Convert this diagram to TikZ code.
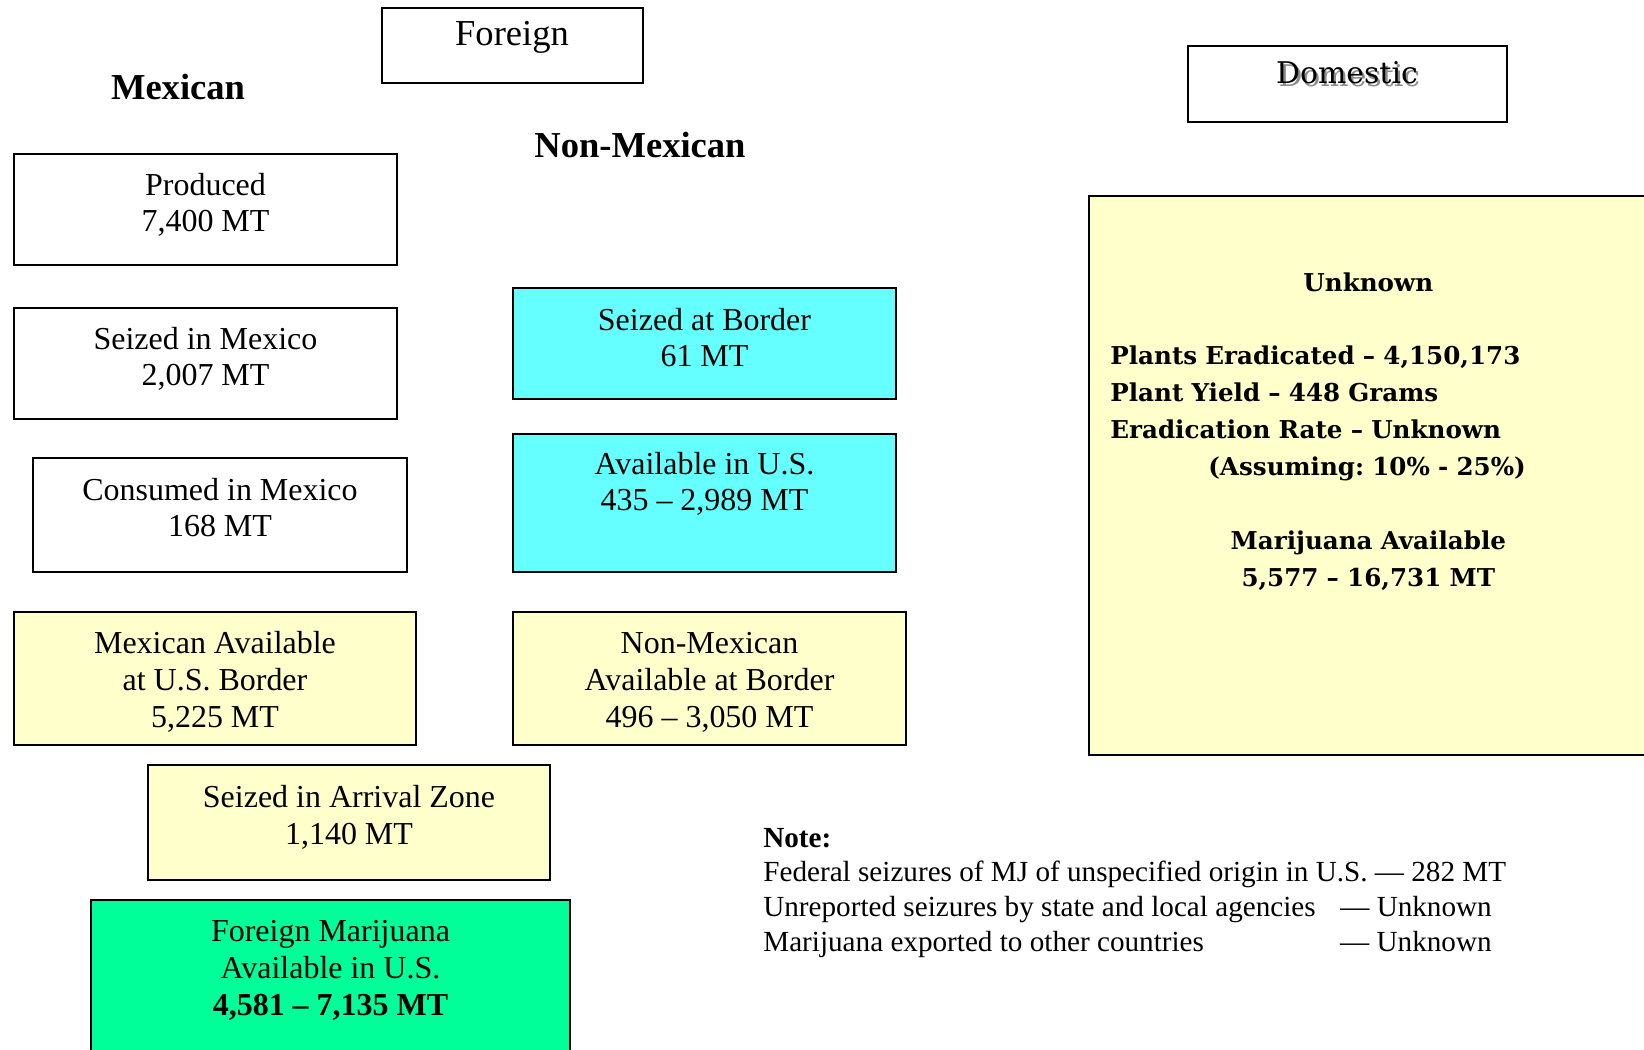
\documentclass[tikz,border=0pt]{standalone}
\usepackage{fontspec}
\setmainfont{Liberation Serif}
\newfontfamily\domfont[Ligatures=TeX]{DejaVu Serif}
\definecolor{paleyellow}{RGB}{255,255,204}
\definecolor{brightcyan}{RGB}{102,255,255}
\definecolor{springgreen}{RGB}{0,255,153}
\newcommand{\shadowed}[1]{\makebox[0pt][l]{\hspace{1.3pt}\raisebox{-1.3pt}{\textcolor{black!45}{#1}}}#1}
\frenchspacing

\begin{document}
\begin{tikzpicture}[x=0.02cm, y=-0.02cm,
  box/.style={draw=black, line width=1.1pt},
  txt/.style={align=center, inner sep=0pt, anchor=base, font=\fontsize{18.2}{21}\selectfont},
  head/.style={inner sep=0pt, anchor=base, font=\fontsize{20.8}{24}\selectfont\bfseries}]
\clip (0,0) rectangle (1644,1050);

% headings
\draw[box] (382,8) rectangle (643,83);
\node[head, font=\fontsize{20.8}{24}\selectfont] (foreign) at (512,46) {Foreign};
\node[head] (mexican) at (178,100) {Mexican};
\node[head] (nonmexican) at (640,158) {Non-Mexican};
\draw[box] (1188,46) rectangle (1507,122);
\node[inner sep=0pt, anchor=base, font=\domfont\fontsize{17}{20}\selectfont] (domestic) at (1347,84) {\shadowed{Domestic}};

% mexican column (nodes sit on the baseline of their last line)
\draw[box] (14,154) rectangle (397,265);
\node[txt] (produced) at (205.5,232) {Produced\\7,400 MT};
\draw[box] (14,308) rectangle (397,419);
\node[txt] (seizedmx) at (205.5,386) {Seized in Mexico\\2,007 MT};
\draw[box] (33,458) rectangle (407,572);
\node[txt] (consumedmx) at (220,537) {Consumed in Mexico\\168 MT};
\draw[box, fill=paleyellow] (14,612) rectangle (416,745);
\node[txt] (mxavail) at (215,727) {Mexican Available\\at U.S. Border\\5,225 MT};

% non-mexican column
\draw[box, fill=brightcyan] (513,288) rectangle (896,399);
\node[txt] (seizedbord) at (704.5,367) {Seized at Border\\61 MT};
\draw[box, fill=brightcyan] (513,434) rectangle (896,572);
\node[txt] (availus) at (704.5,511) {Available in U.S.\\435 -- 2,989 MT};
\draw[box, fill=paleyellow] (513,612) rectangle (906,745);
\node[txt] (nmavail) at (709.5,727) {Non-Mexican\\Available at Border\\496 -- 3,050 MT};

% arrival and total
\draw[box, fill=paleyellow] (148,765) rectangle (550,880);
\node[txt] (arrival) at (349,844) {Seized in Arrival Zone\\1,140 MT};
\draw[box, fill=springgreen] (91,900) rectangle (570,1070);
\node[txt] (foreignus) at (330.5,1015) {Foreign Marijuana\\Available in U.S.\\\textbf{4,581 -- 7,135 MT}};

% domestic estimate
\draw[box, fill=paleyellow] (1089,196) rectangle (1680,755);
\node[inner sep=0pt, anchor=north west, align=left, text width=10.32cm,
  font=\domfont\bfseries\fontsize{14}{21}\selectfont] (domtext) at (1110,272) {%
  \makebox[10.32cm]{Unknown}\\[21pt]
  Plants Eradicated -- 4,150,173\\
  Plant Yield -- 448 Grams\\
  Eradication Rate -- Unknown\\
  \hspace*{1.96cm}(Assuming: 10\% - 25\%)\\[21pt]
  \makebox[10.32cm]{Marijuana Available}\\
  \makebox[10.32cm]{5,577 -- 16,731 MT}};

% note
\node[inner sep=0pt, anchor=base west, align=left, font=\fontsize{16.6}{19.7}\selectfont] (note) at (763,951) {%
  \textbf{Note:}\\
  Federal seizures of MJ of unspecified origin in U.S. --- 282 MT\\
  \makebox[11.54cm][l]{Unreported seizures by state and local agencies}--- Unknown\\
  \makebox[11.54cm][l]{Marijuana exported to other countries}--- Unknown};
\end{tikzpicture}
\end{document}
